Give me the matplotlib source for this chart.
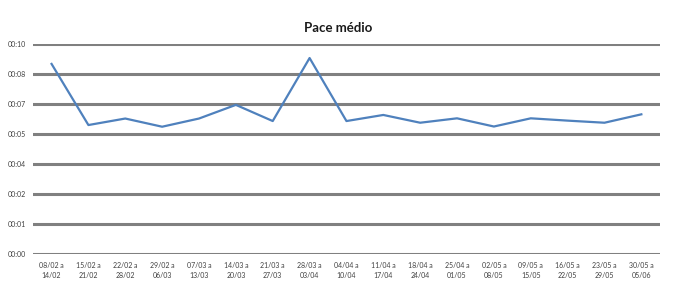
import matplotlib
matplotlib.use("Agg")
import matplotlib.pyplot as plt
import numpy as np

plt.rcParams['font.family'] = ['Lato', 'DejaVu Sans']

# weeks (category labels) and average pace in minutes
semanas = ["08/02 a\n14/02", "15/02 a\n21/02", "22/02 a\n28/02", "29/02 a\n06/03",
           "07/03 a\n13/03", "14/03 a\n20/03", "21/03 a\n27/03", "28/03 a\n03/04",
           "04/04 a\n10/04", "11/04 a\n17/04", "18/04 a\n24/04", "25/04 a\n01/05",
           "02/05 a\n08/05", "09/05 a\n15/05", "16/05 a\n22/05", "23/05 a\n29/05",
           "30/05 a\n05/06"]
pace = [9.05, 6.14, 6.45, 6.06, 6.45, 7.10, 6.33, 9.33, 6.33,
        6.62, 6.25, 6.46, 6.07, 6.46, 6.35, 6.25, 6.65]
y_ticks = np.linspace(0, 10, 8)
y_labels = ["00:00", "00:01", "00:02", "00:04", "00:05", "00:07", "00:08", "00:10"]

fig = plt.figure(figsize=(6.76, 2.93), dpi=100)
ax = fig.add_axes([0.049, 0.133, 0.927, 0.717])

x = np.arange(len(semanas))
ax.plot(x, pace, color="#4F81BD", lw=1.6, zorder=3)

ax.set_xlim(-0.5, len(semanas) - 0.5)
ax.set_ylim(0, 10)
ax.set_yticks(y_ticks)
ax.set_yticklabels(y_labels)
ax.set_xticks(x)
ax.set_xticklabels(semanas, linespacing=1.5)
ax.grid(axis="y", color="#808080", lw=2.2)
ax.set_axisbelow(True)
for s in ax.spines.values():
    s.set_visible(False)
ax.tick_params(length=0, labelsize=5, colors="#404040", pad=5)
ax.tick_params(axis="x", pad=6)

fig.text(0.5, 0.905, "Pace médio", ha="center", va="center",
         fontsize=9.5, fontweight="bold", color="#1a1a1a")

fig.savefig("out.png", dpi=100)
